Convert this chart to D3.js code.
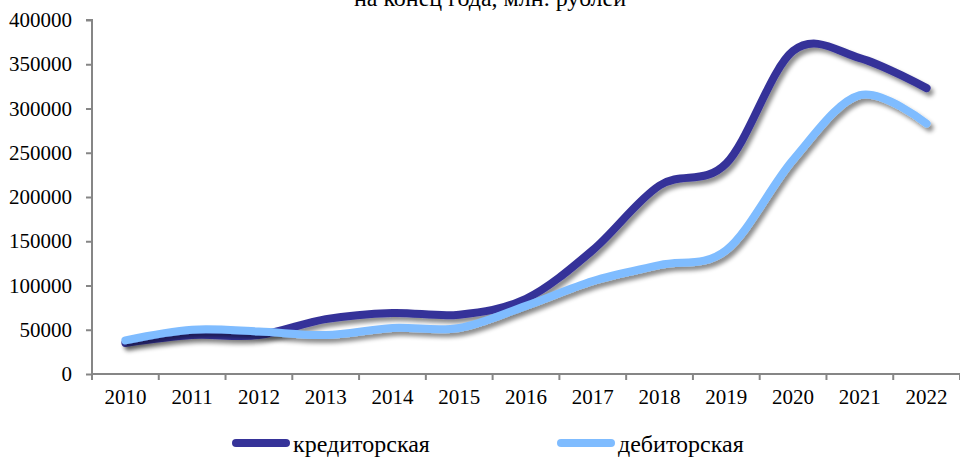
<!DOCTYPE html>
<html><head><meta charset="utf-8">
<script src="https://cdn.jsdelivr.net/npm/d3@7"></script>
<style>body{margin:0;background:#fff}svg{display:block}text{font-family:"Liberation Serif","Times New Roman",serif;fill:#000}</style>
</head><body><svg id="c" width="960" height="460"></svg>
<script>
const title = "на конец года, млн. рублей";
const years = ["2010","2011","2012","2013","2014","2015","2016","2017","2018","2019","2020","2021","2022"];
const kreditor = [35000,44000,44000,62000,69000,67000,85000,140000,213000,238000,365000,357000,323000];
const debitor  = [38000,50000,48000,44000,52000,52000,77000,105000,123000,140000,242000,315000,283000];
const seriesNames = ["кредиторская","дебиторская"];
const seriesColors = ["#363399","#7fbcff"];
const yTicks = [0,50000,100000,150000,200000,250000,300000,350000,400000];

const svg = d3.select("#c");
const m = {l:92, r:960, t:20, b:374};
const x = d3.scaleBand().domain(years).range([m.l, m.r]);
const y = d3.scaleLinear().domain([0,400000]).range([m.b, m.t]);

const defs = svg.append("defs");
const f = defs.append("filter").attr("id","sh").attr("x","-10%").attr("y","-10%").attr("width","120%").attr("height","130%");
f.append("feDropShadow").attr("dx",3).attr("dy",4).attr("stdDeviation",2).attr("flood-color","#000").attr("flood-opacity",0.45);

svg.append("text").attr("x",490).attr("y",6).attr("text-anchor","middle")
  .style("font-size","24px").style("font-family","'Liberation Serif',serif").text(title);

const axisColor = "#868686";
const ya = svg.append("g").attr("transform",`translate(${m.l},0)`)
  .call(d3.axisLeft(y).tickValues(yTicks).tickFormat(d=>String(d)).tickSize(6).tickPadding(14));
const xa = svg.append("g").attr("transform",`translate(0,${m.b})`)
  .call(d3.axisBottom(x).tickSize(0).tickPadding(15));
[ya,xa].forEach(g=>{
  g.attr("font-family",null).attr("font-size",null);
  g.selectAll("path").attr("stroke",axisColor).attr("stroke-width",2);
  g.selectAll("line").attr("stroke",axisColor).attr("stroke-width",2);
  g.selectAll("text").style("font-size","21px").style("font-family","'Liberation Serif',serif").attr("fill","#000");
});
ya.select(".domain").attr("d",`M-6,${m.t}H0V${m.b}`);
xa.select(".domain").attr("d",`M${m.l},0H${m.r}`);
const bounds = years.map(yr=>x(yr)).concat([m.r]);
xa.selectAll(".bt").data(bounds).enter().append("line").attr("class","bt")
  .attr("x1",d=>d).attr("x2",d=>d).attr("y1",0).attr("y2",6).attr("stroke",axisColor).attr("stroke-width",2);

const line = d3.line().x((d,i)=>x(years[i])+x.bandwidth()/2).y(d=>y(d)).curve(d3.curveCardinal.tension(0));
[kreditor, debitor].forEach((s,i)=>{
  svg.append("path").datum(s).attr("d",line).attr("fill","none")
    .attr("stroke",seriesColors[i]).attr("stroke-width",8).attr("stroke-linecap","round").attr("filter","url(#sh)");
});

const legX = [236, 561];
seriesNames.forEach((n,i)=>{
  svg.append("line").attr("x1",legX[i]).attr("x2",legX[i]+50).attr("y1",443).attr("y2",443)
    .attr("stroke",seriesColors[i]).attr("stroke-width",8).attr("stroke-linecap","round");
  svg.append("text").attr("x",legX[i]+57).attr("y",452)
    .style("font-size","24px").style("font-family","'Liberation Serif',serif").text(n);
});
</script></body></html>
